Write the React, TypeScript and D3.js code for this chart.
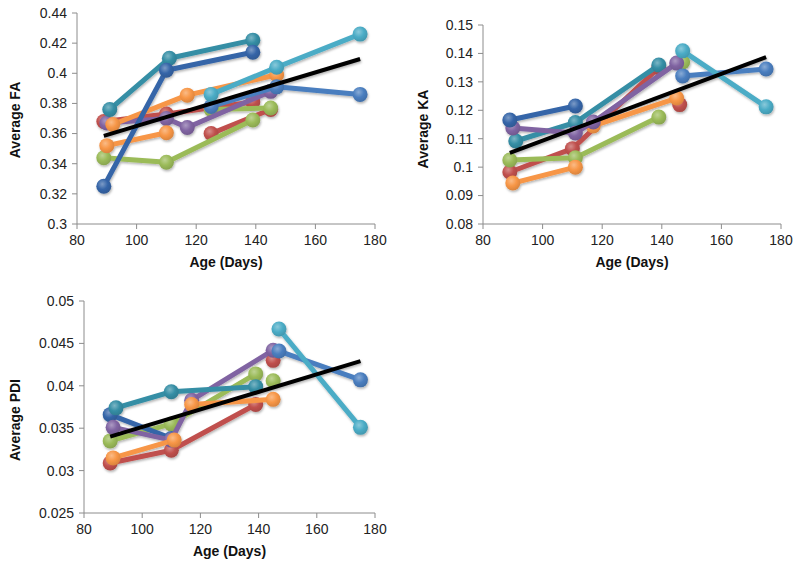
import React from 'react';
import * as d3 from 'd3';

// ---------- data ----------
const xTicks = [80, 100, 120, 140, 160, 180];

const faTicks = [0.3, 0.32, 0.34, 0.36, 0.38, 0.4, 0.42, 0.44];
const faTickLabels = ['0.3', '0.32', '0.34', '0.36', '0.38', '0.4', '0.42', '0.44'];
const kaTicks = [0.08, 0.09, 0.1, 0.11, 0.12, 0.13, 0.14, 0.15];
const kaTickLabels = ['0.08', '0.09', '0.1', '0.11', '0.12', '0.13', '0.14', '0.15'];
const pdiTicks = [0.025, 0.03, 0.035, 0.04, 0.045, 0.05];
const pdiTickLabels = ['0.025', '0.03', '0.035', '0.04', '0.045', '0.05'];

type Series = [string, number[], number[]];

// [series key, ages (days), values]
const faSeries: Series[] = [
  ['red', [89, 110, 139], [0.368, 0.373, 0.381]],
  ['red', [125, 145], [0.36, 0.376]],
  ['green', [89, 110, 139], [0.344, 0.341, 0.369]],
  ['green', [125, 145], [0.376, 0.377]],
  ['purple', [90, 110, 117, 145], [0.367, 0.37, 0.364, 0.388]],
  ['orange', [90, 110], [0.352, 0.3605]],
  ['orange', [92, 117, 147], [0.366, 0.3855, 0.399]],
  ['blue', [125, 147, 175], [0.378, 0.391, 0.386]],
  ['cyan', [125, 147, 175], [0.386, 0.404, 0.426]],
  ['darkTeal', [91, 111, 139], [0.376, 0.41, 0.422]],
  ['darkBlue', [89, 110, 139], [0.325, 0.402, 0.414]],
];
const faTrend: Series = ['black', [89, 175], [0.3585, 0.4095]];

const kaSeries: Series[] = [
  ['red', [89, 110, 139], [0.0983, 0.1065, 0.135]],
  ['red', [146], [0.122]],
  ['green', [89, 111, 139], [0.1025, 0.1033, 0.1176]],
  ['green', [147], [0.137]],
  ['orange', [90, 111], [0.0944, 0.1]],
  ['orange', [117, 145], [0.1145, 0.1243]],
  ['darkTeal', [91, 111, 139], [0.1092, 0.1157, 0.1359]],
  ['purple', [90, 111, 117, 145], [0.1138, 0.112, 0.1159, 0.1366]],
  ['blue', [147, 175], [0.1321, 0.1345]],
  ['cyan', [147, 175], [0.1409, 0.1212]],
  ['darkBlue', [89, 111], [0.1166, 0.1215]],
];
const kaTrend: Series = ['black', [89, 175], [0.105, 0.1387]];

const pdiSeries: Series[] = [
  ['red', [89, 110, 139], [0.0309, 0.0324, 0.0378]],
  ['red', [145], [0.043]],
  ['green', [89, 110, 139], [0.0335, 0.0355, 0.0414]],
  ['green', [145], [0.0406]],
  ['darkBlue', [89, 110], [0.0366, 0.0338]],
  ['purple', [90, 110, 117, 145], [0.0351, 0.0336, 0.0383, 0.0442]],
  ['orange', [90, 111], [0.0315, 0.0336]],
  ['orange', [117, 145], [0.0378, 0.0384]],
  ['darkTeal', [91, 110, 139], [0.0374, 0.0393, 0.0399]],
  ['blue', [147, 175], [0.0441, 0.0407]],
  ['cyan', [147, 175], [0.0467, 0.0351]],
];
const pdiTrend: Series = ['black', [89, 175], [0.034, 0.0429]];

// ---------- styles ----------
const COLORS: Record<string, string> = {
  darkBlue: '#3565a8',
  blue: '#4a7ebf',
  red: '#c0504d',
  green: '#9bbb59',
  purple: '#8064a2',
  cyan: '#4bacc6',
  darkTeal: '#358ea5',
  orange: '#f79646',
  black: '#000000',
};
const FONT = "'Liberation Sans', Arial, Helvetica, sans-serif";

interface PanelProps {
  x0: number; x1: number; yTop: number; yBot: number;
  domain: [number, number];
  ticks: number[]; tickLabels: string[];
  series: Series[]; trend: Series;
  yTitle: string; yTitleX: number; yTitleY: number;
}

function Panel(p: PanelProps) {
  const x = d3.scaleLinear().domain([80, 180]).range([p.x0, p.x1]);
  const y = d3.scaleLinear().domain(p.domain).range([p.yBot, p.yTop]);
  const line = d3.line<[number, number]>().x(d => x(d[0])).y(d => y(d[1]));
  const pts = (s: Series) => s[1].map((d, i) => [d, s[2][i]] as [number, number]);
  const axisColor = '#8c8c8c';
  return (
    <g>
      <line x1={p.x0} x2={p.x0} y1={p.yTop} y2={p.yBot} stroke={axisColor} strokeWidth={1} />
      <line x1={p.x0} x2={p.x1} y1={p.yBot} y2={p.yBot} stroke={axisColor} strokeWidth={1} />
      {p.ticks.map((t, i) => (
        <g key={'yt' + i}>
          <line x1={p.x0 - 5} x2={p.x0} y1={y(t)} y2={y(t)} stroke={axisColor} />
          <text x={p.x0 - 10} y={y(t)} dy="0.35em" textAnchor="end" fontSize={14} fill="#222" fontFamily={FONT}>{p.tickLabels[i]}</text>
        </g>
      ))}
      {xTicks.map((t, i) => (
        <g key={'xt' + i}>
          <line x1={x(t)} x2={x(t)} y1={p.yBot} y2={p.yBot + 5} stroke={axisColor} />
          <text x={x(t)} y={p.yBot + 21} textAnchor="middle" fontSize={14} fill="#222" fontFamily={FONT}>{t}</text>
        </g>
      ))}
      <text x={(p.x0 + p.x1) / 2} y={p.yBot + 43} textAnchor="middle" fontSize={14} fontWeight="bold" fill="#111" fontFamily={FONT}>Age (Days)</text>
      <text transform={`translate(${p.yTitleX},${p.yTitleY}) rotate(-90)`} textAnchor="middle" dy="0.35em" fontSize={14} fontWeight="bold" fill="#111" fontFamily={FONT}>{p.yTitle}</text>
      <g filter="url(#shadow)">
        {p.series.map((s, i) => (
          <g key={'s' + i}>
            {s[1].length > 1 && (
              <path d={line(pts(s)) || ''} fill="none" stroke={COLORS[s[0]]} strokeWidth={5} strokeLinejoin="round" strokeLinecap="round" />
            )}
            {pts(s).map((d, j) => (
              <circle key={j} cx={x(d[0])} cy={y(d[1])} r={7.5} fill={`url(#grad-${s[0]})`} />
            ))}
          </g>
        ))}
        <path d={line(pts(p.trend)) || ''} fill="none" stroke={COLORS.black} strokeWidth={4} />
      </g>
    </g>
  );
}

export default function App() {
  const keys = Object.keys(COLORS).filter(k => k !== 'black');
  return (
    <svg width={800} height={565} style={{ position: 'absolute', left: 0, top: 0, background: '#fff' }}>
      <defs>
        <filter id="shadow" x="-10%" y="-10%" width="120%" height="130%">
          <feDropShadow dx={0.8} dy={1.6} stdDeviation={1.2} floodColor="#000" floodOpacity={0.3} />
        </filter>
        {keys.map(k => {
          const c = d3.color(COLORS[k])!;
          const light = d3.interpolateRgb(COLORS[k], '#ffffff')(0.35);
          const dark = (c as any).darker(0.35).formatHex();
          return (
            <radialGradient key={k} id={`grad-${k}`} cx="40%" cy="35%" r="65%">
              <stop offset="0%" stopColor={light} />
              <stop offset="55%" stopColor={COLORS[k]} />
              <stop offset="100%" stopColor={dark} />
            </radialGradient>
          );
        })}
      </defs>
      <rect width={800} height={565} fill="#fff" />
      <Panel x0={77} x1={375} yTop={13} yBot={224} domain={[0.3, 0.44]} ticks={faTicks} tickLabels={faTickLabels}
        series={faSeries} trend={faTrend} yTitle="Average FA" yTitleX={15} yTitleY={120} />
      <Panel x0={483} x1={781} yTop={25} yBot={224} domain={[0.08, 0.15]} ticks={kaTicks} tickLabels={kaTickLabels}
        series={kaSeries} trend={kaTrend} yTitle="Average KA" yTitleX={423} yTitleY={129} />
      <Panel x0={84} x1={375} yTop={301} yBot={513} domain={[0.025, 0.05]} ticks={pdiTicks} tickLabels={pdiTickLabels}
        series={pdiSeries} trend={pdiTrend} yTitle="Average PDI" yTitleX={15} yTitleY={420} />
    </svg>
  );
}
